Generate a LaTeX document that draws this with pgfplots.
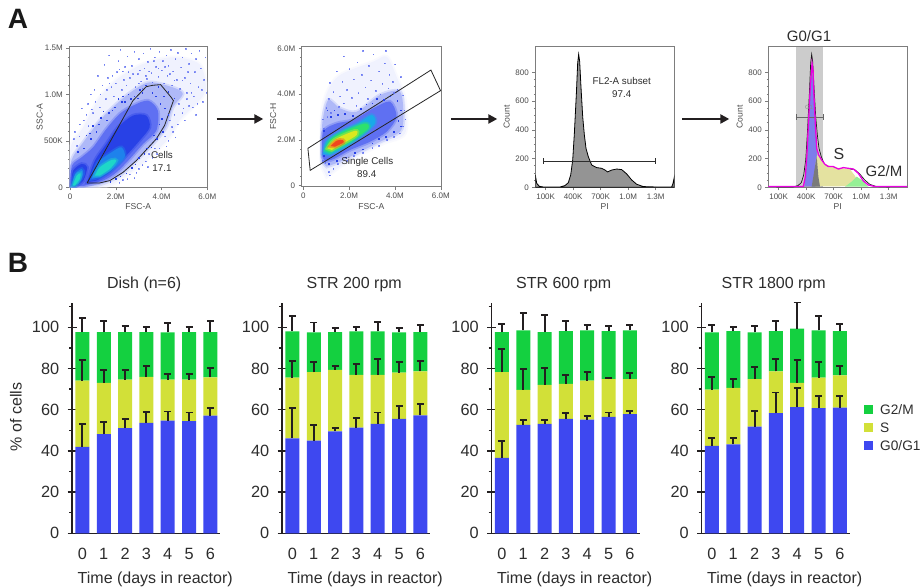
\documentclass[border=0pt]{standalone}
\usepackage{fontspec}
\setmainfont{Liberation Sans}
\usepackage{pgfplots}
\usepackage{pgfplotstable}
\pgfplotsset{compat=1.18}
\usetikzlibrary{arrows.meta}
\definecolor{cB}{RGB}{62,72,240}
\definecolor{cY}{RGB}{210,224,56}
\definecolor{cG}{RGB}{20,208,64}
\definecolor{txt}{RGB}{45,45,45}
\definecolor{ebar}{RGB}{35,31,32}
\definecolor{boxg}{RGB}{125,125,125}
\definecolor{d0}{RGB}{240,242,254}
\definecolor{d1}{RGB}{175,185,248}
\definecolor{d2}{RGB}{95,112,242}
\definecolor{d3}{RGB}{40,65,230}
\definecolor{d4}{RGB}{30,130,236}
\definecolor{d5}{RGB}{30,215,200}
\definecolor{h3}{RGB}{25,170,232}
\definecolor{h4}{RGB}{45,225,110}
\definecolor{h5}{RGB}{220,232,30}
\definecolor{h6}{RGB}{240,70,30}
\definecolor{mag}{RGB}{235,0,225}

\pgfplotstableread{
d g1 eg1 s es g2 eg2
0 41.9 11.0 32.2 9.9 23.6 6.7
1 48.1 5.8 24.9 6.4 24.7 5.4
2 51.1 4.2 23.5 4.8 23.1 2.9
3 53.6 5.1 22.3 5.3 21.8 2.6
4 54.7 4.4 19.9 2.7 22.9 4.6
5 54.5 4.1 20.1 2.9 23.1 2.5
6 57.1 3.7 18.6 4.6 22.0 5.2
}\dish
\pgfplotstableread{
d g1 eg1 s es g2 eg2
0 46.1 14.9 29.5 8.1 22.4 7.5
1 45.0 7.6 33.3 4.9 19.3 4.7
2 49.5 1.8 29.8 1.9 18.4 2.1
3 51.3 4.8 25.6 5.3 21.1 2.3
4 53.1 5.5 23.8 7.7 21.1 4.6
5 55.5 6.2 22.5 5.3 19.6 2.1
6 57.3 5.6 21.3 5.1 19.1 3.4
}\strA
\pgfplotstableread{
d g1 eg1 s es g2 eg2
0 36.6 8.2 41.6 11.1 19.5 3.8
1 52.6 2.4 17.0 10.3 28.9 8.6
2 53.1 1.8 18.9 8.3 25.7 8.4
3 55.5 2.8 17.0 4.5 25.7 4.9
4 55.2 1.9 18.9 4.1 24.4 2.8
5 56.5 2.1 18.3 0.6 23.4 2.3
6 57.9 1.3 17.0 2.9 23.6 2.5
}\strB
\pgfplotstableread{
d g1 eg1 s es g2 eg2
0 42.4 4.0 27.3 6.2 27.9 3.4
1 43.2 3.1 27.4 4.3 27.6 2.0
2 51.8 7.7 23.1 5.8 22.7 3.2
3 58.4 10.0 20.2 5.9 19.5 5.0
4 61.3 9.1 11.7 11.0 26.4 12.6
5 60.8 6.0 14.8 7.7 22.9 7.0
6 61.0 5.5 15.7 4.5 21.5 3.3
}\strC
\pgfplotstableread{
x y
-13 86
2 28
31 7
75 2
256 2
311 12
347 32
373 86
395 190
413 375
435 653
449 862
460 925
471 874
485 700
504 491
522 364
540 271
565 213
602 155
656 137
711 132
747 120
776 107
820 120
875 127
929 123
984 93
1038 51
1093 21
1165 5
1311 2
1475 2
1489 28
1503 70
}\hist

\newcommand{\fsz}[1]{\fontsize{#1}{#1}\selectfont}
\pgfplotsset{
 flowbase/.style={
  scale only axis, axis line style={boxg,line width=0.7pt},
  tick style={boxg,line width=0.5pt}, tick align=outside,
  major tick length=3pt, minor tick length=1.5pt,
  tick label style={font=\fsz{8}, text=txt!85},
  /pgf/number format/assume math mode=true,
  label style={font=\fsz{8.6}, text=txt!85},
  xtick pos=bottom, ytick pos=left,
  clip=true,
  speck/.style={only marks,mark=square*,mark size=0.3pt,color=d2,mark options={draw=none}},
  soft/.style={fill=##1,draw=##1,draw opacity=0.4,line width=3.5pt,smooth},
 },
 hist/.style={flowbase,width=139pt,height=140.6pt,xmin=-13,xmax=1503,ymin=0,ymax=978,
  xtick={100,400,700,1000,1300},xticklabels={100K,400K,700K,1.0M,1.3M},
  ytick={0,200,400,600,800},minor y tick num=3,
  xlabel={PI},ylabel={Count},
  xlabel style={at={(0.5,0)},anchor=north,yshift=-13pt},
  ylabel style={at={(0,0.5)},anchor=south,yshift=22pt},
 },
 barpanel/.style={
  scale only axis,width=148pt,height=230.7pt,
  xmin=-0.48,xmax=6.46,ymin=0,ymax=112,
  axis lines=left, axis line style={-,line width=1.5pt,ebar},
  xtick={0,...,6}, x tick style={draw=none},
  ytick={10,30,50,70,90,110}, yticklabels={}, y tick style={ebar,line width=1.3pt},
  tick align=outside, major tick length=3pt,
  extra y ticks={0,20,40,60,80,100},
  extra tick style={tick align=center,major tick length=9pt,y tick style={ebar,line width=1.3pt}},
  /pgf/number format/assume math mode=true,
  tick label style={font=\fsz{16.3}, text=txt},
  yticklabel style={xshift=-5pt},
  xticklabel style={yshift=-8pt},
  title style={font=\fsz{16}, text=txt, yshift=1pt, xshift=-2pt},
  xlabel style={font=\fsz{16}, text=txt, xshift=9pt, yshift=-6pt},
  xlabel={Time (days in reactor)},
  ylabel={},
  ybar stacked, bar width=14pt, clip=false,
 },
 eb/.style={error bars/.cd, y dir=plus, y explicit,
   error bar style={ebar,line width=2pt},
   error mark options={ebar,line width=1.8pt,mark size=3.5pt,rotate=90}},
}
\newcommand{\stackbars}[1]{%
  \addplot[fill=cB,draw=none,eb] table[x=d,y=g1,y error=eg1]{#1};
  \addplot[fill=cY,draw=none,eb] table[x=d,y=s,y error=es]{#1};
  \addplot[fill=cG,draw=none,eb] table[x=d,y=g2,y error=eg2]{#1};
}

\begin{document}
\begin{tikzpicture}[x=1pt,y=1pt]
\useasboundingbox (0,0) rectangle (924,588);
\fill[white] (0,0) rectangle (924,588);
\node[font=\fsz{28}\bfseries,text=black!90] at (18,569) {A};
\node[font=\fsz{28}\bfseries,text=black!90] at (18,325) {B};

%% ---------- A1
\begin{axis}[flowbase,at={(69.3pt,400.7pt)},anchor=south west,width=138pt,height=140.6pt,
 xmin=-0.03,xmax=6,ymin=0,ymax=1.512,
 xtick={0,2,4,6},xticklabels={0,2.0M,4.0M,6.0M},
 ytick={0,0.5,1,1.5},yticklabels={0,500K,1.0M,1.5M},minor y tick num=4,
 xlabel={FSC-A},ylabel={SSC-A},
 xlabel style={at={(0.5,0)},anchor=north,yshift=-13pt},
 ylabel style={at={(0,0.5)},anchor=south,yshift=23pt},
]
\addplot[soft=d0] coordinates {(0.03,0)(0.03,0.43)(0.58,0.645)(1.30,0.968)(2.17,1.183)(3.19,1.326)(4.49,1.398)(5.65,1.326)(5.94,1.075)(5.65,0.932)(4.78,0.717)(4.35,0.538)(3.48,0.323)(2.75,0.179)(1.88,0.036)(1.30,0)} -- cycle;
\addplot[speck,opacity=0.7] coordinates {
(0.2,0.6)(0.5,0.85)(0.7,0.78)(0.9,1.0)(1.1,0.92)(1.2,1.2)(1.4,1.1)(1.5,1.32)(1.6,1.05)(1.7,1.42)(1.85,1.2)(2.0,1.12)(2.1,1.36)(2.2,1.48)(2.3,1.25)(2.45,1.1)(2.5,1.41)(2.6,1.18)(2.7,1.31)(2.8,1.46)(2.85,1.08)(2.95,1.22)(3.0,1.38)(3.1,1.14)(3.2,1.44)(3.25,1.28)(3.35,1.17)(3.4,1.35)(3.5,1.49)(3.55,1.23)(3.6,1.13)(3.7,1.4)(3.75,1.3)(3.85,1.19)(3.9,1.46)(4.0,1.26)(4.05,1.36)(4.1,1.12)(4.2,1.42)(4.25,1.2)(4.3,1.31)(4.4,1.48)(4.45,1.1)(4.5,1.25)(4.6,1.38)(4.65,1.16)(4.7,1.45)(4.8,1.06)(4.85,1.29)(4.9,1.4)(5.0,1.18)(5.05,1.49)(5.1,1.02)(5.2,1.33)(5.25,1.12)(5.3,1.44)(5.4,0.98)(5.45,1.24)(5.5,1.38)(5.6,1.08)(5.65,1.47)(5.7,1.28)(5.8,0.92)(5.85,1.16)(5.9,1.4)(5.95,1.02)(5.2,0.88)(4.9,0.8)(4.7,0.68)(4.5,0.6)(4.3,0.5)(3.9,0.42)(3.6,0.32)(3.3,0.28)(3.0,0.2)(2.6,0.14)(2.3,0.08)(5.5,0.78)(5.0,0.72)(4.6,0.54)(4.2,0.44)(3.8,0.36)(3.4,0.22)(2.8,0.1)(1.0,0.8)(0.8,0.66)(0.4,0.55)(0.3,0.45)(1.3,0.86)(1.8,1.08)(2.25,1.05)(3.05,1.26)(2.4,1.3)(3.15,1.06)(0.6,0.72)(1.55,0.95)(1.9,0.98)(4.35,0.72)(4.75,0.9)(5.1,0.95)(5.35,0.86)(5.55,0.9)
(2.15,1.27)(2.75,1.22)(3.45,1.25)(4.15,1.3)(4.55,1.15)(5.15,1.24)(3.65,1.36)(2.35,1.16)(1.65,1.18)(0.95,0.84)
(0.15,0.52)(0.42,0.68)(0.78,0.9)(1.05,1.05)(1.32,1.0)(1.72,1.12)(2.05,1.24)(2.55,1.24)(3.0,1.12)(3.3,1.2)(3.85,1.28)(4.35,1.22)(4.9,1.15)(5.3,1.02)(5.75,1.05)(4.95,0.85)(4.55,0.78)(4.45,0.65)(4.15,0.55)(3.7,0.42)(3.45,0.36)(3.15,0.24)(2.9,0.16)(2.5,0.09)(2.15,0.05)};
\addplot[soft=d1] coordinates {(0.03,0.007)(0.06,0.287)(0.58,0.484)(1.30,0.717)(2.03,0.896)(2.75,1.039)(3.48,1.129)(4.49,1.075)(4.93,1.004)(4.49,0.860)(4.20,0.645)(3.62,0.466)(2.90,0.287)(2.17,0.125)(1.30,0.029)(0.43,0)} -- cycle;
\addplot[speck,color=d3] coordinates {
(0.7,0.56)(1.0,0.66)(1.25,0.68)(1.45,0.82)(1.7,0.8)(1.95,0.86)(2.1,0.95)(2.4,0.92)(2.55,1.0)(2.8,0.98)(3.05,1.05)(3.3,1.1)(3.6,1.02)(3.85,1.08)(4.1,0.98)(4.3,1.03)(4.55,0.96)(4.15,0.85)(4.0,0.74)(4.05,0.6)(3.8,0.52)(3.55,0.43)(3.25,0.36)(3.0,0.32)(2.7,0.21)(2.45,0.15)(2.0,0.09)(0.9,0.52)(1.15,0.6)(1.6,0.72)(2.25,0.92)(2.65,0.95)(2.95,0.96)
(0.35,0.38)(0.6,0.42)(0.85,0.58)(1.35,0.75)(1.85,0.83)(2.3,0.98)(3.15,1.02)(3.75,0.98)(3.95,0.9)(4.3,0.78)(3.9,0.68)(3.65,0.56)(3.35,0.42)(2.85,0.25)(2.2,0.12)(1.75,0.06)};
\addplot[soft=d2] coordinates {(0.03,0.014)(0.09,0.233)(0.51,0.323)(1.01,0.430)(1.59,0.627)(2.17,0.789)(2.75,0.878)(3.41,0.932)(3.84,0.824)(3.77,0.609)(3.19,0.466)(2.61,0.305)(2.03,0.161)(1.45,0.072)(0.58,0.014)} -- cycle;
\addplot[soft=d3] coordinates {(0.75,0.054)(1.09,0.287)(1.59,0.466)(2.10,0.645)(2.75,0.771)(3.33,0.771)(3.48,0.645)(3.04,0.502)(2.39,0.323)(1.74,0.161)(1.16,0.072)} -- cycle;
\addplot[soft=d3] coordinates {(0.06,0.018)(0.14,0.179)(0.51,0.251)(0.75,0.215)(0.58,0.072)(0.22,0.007)} -- cycle;
\addplot[soft=d4] coordinates {(0.94,0.09)(1.23,0.269)(1.81,0.376)(2.25,0.430)(2.39,0.323)(1.88,0.197)(1.30,0.108)} -- cycle;
\addplot[soft=d4] coordinates {(0.09,0.018)(0.22,0.143)(0.51,0.197)(0.58,0.143)(0.36,0.036)} -- cycle;
\addplot[soft=d5] coordinates {(1.09,0.125)(1.30,0.215)(1.81,0.294)(2.03,0.287)(1.74,0.197)(1.30,0.125)} -- cycle;
\addplot[soft=d5] coordinates {(0.12,0.018)(0.29,0.125)(0.46,0.151)(0.43,0.09)(0.22,0.018)} -- cycle;
\addplot[draw=black!85,line width=0.8pt] coordinates {(0.75,0.047)(1.30,0.047)(1.74,0.072)(2.32,0.161)(2.90,0.287)(3.77,0.520)(4.13,0.663)(4.52,0.932)(4.42,0.968)(3.96,1.104)(3.62,1.097)(3.33,1.082)(2.75,0.932)(2.39,0.771)(0.75,0.047)};
\end{axis}
\node[font=\fsz{9.8},text=txt] at (162,433) {Cells};
\node[font=\fsz{9.8},text=txt] at (162,420) {17.1};

%% ---------- A2
\begin{axis}[flowbase,at={(301.7pt,401.3pt)},anchor=south west,width=139.3pt,height=140pt,
 xmin=-0.07,xmax=6.01,ymin=-0.044,ymax=6.07,
 xtick={0,2,4,6},xticklabels={0,2.0M,4.0M,6.0M},
 ytick={0,2,4,6},yticklabels={0,2.0M,4.0M,6.0M},minor y tick num=4,
 xlabel={FSC-A},ylabel={FSC-H},
 xlabel style={at={(0.5,0)},anchor=north,yshift=-13pt},
 ylabel style={at={(0,0.5)},anchor=south,yshift=22pt},
]
\addplot[soft=d0] coordinates {(0.80,0.83)(0.80,3.01)(1.05,4.10)(1.60,4.83)(3.06,5.42)(3.64,5.63)(4.07,4.76)(4.44,3.74)(4.44,2.29)(3.49,1.85)(2.47,1.34)(1.60,0.83)(1.02,0.39)} -- cycle;
\addplot[speck,opacity=0.75] coordinates {
(1.15,4.5)(1.3,4.1)(1.45,5.0)(1.6,3.9)(1.7,4.55)(1.75,5.65)(1.9,4.2)(2.0,5.1)(2.1,3.85)(2.2,4.65)(2.35,5.4)(2.4,4.05)(2.55,4.85)(2.6,5.9)(2.7,4.3)(2.85,5.25)(2.95,4.6)(3.05,5.75)(3.15,4.15)(3.3,5.0)(3.45,4.45)(3.55,5.35)(3.6,5.9)(3.7,4.25)(3.75,4.85)(3.9,4.55)(4.0,5.3)(4.1,4.2)(4.25,4.75)(4.35,3.95)(1.0,3.4)(1.1,3.8)(0.95,1.0)(1.1,0.6)(1.3,0.75)(1.15,0.45)(1.5,0.95)(1.9,1.1)(2.2,1.3)(2.6,1.45)(3.0,1.65)(3.3,1.75)(3.65,2.0)(3.95,2.15)(4.2,2.3)(4.35,2.6)(4.45,2.9)(4.4,3.3)(0.85,2.9)(0.88,2.5)(0.82,1.5)(0.84,1.1)(1.2,3.2)(1.75,3.6)(2.3,3.5)(2.8,3.8)(3.35,4.0)(3.95,4.05)(1.55,3.45)(1.05,3.0)};
\addplot[soft=d1] coordinates {(0.80,1.05)(0.83,2.72)(1.09,3.74)(1.60,3.38)(2.33,3.23)(3.35,3.96)(4.22,4.10)(4.37,3.01)(4.22,2.36)(3.35,1.92)(2.47,1.48)(1.60,1.05)(1.02,0.83)} -- cycle;
\addplot[speck,color=d3] coordinates {(1.05,3.3)(1.2,3.0)(1.35,3.3)(1.5,3.1)(1.8,3.15)(2.15,3.05)(2.5,3.35)(2.75,3.55)(3.0,3.6)(3.2,3.8)(3.5,3.75)(3.8,3.9)(4.1,3.7)(4.25,3.3)(4.15,2.85)(4.25,2.6)(3.95,2.35)(3.6,2.15)(3.3,2.05)(3.0,1.85)(2.6,1.6)(2.25,1.45)(1.85,1.25)(1.45,1.1)(1.1,0.95)(0.9,1.3)(0.88,2.4)};
\addplot[soft=d2] coordinates {(0.83,1.27)(0.87,2.36)(1.46,2.72)(2.18,2.87)(3.06,3.38)(3.78,3.67)(4.07,3.01)(3.64,2.36)(2.91,1.92)(2.04,1.56)(1.38,1.19)(0.95,1.05)} -- cycle;
\addplot[soft=h3] coordinates {(0.87,1.38)(0.99,1.92)(1.60,2.36)(2.33,2.69)(2.98,3.09)(3.13,2.72)(2.47,2.11)(1.75,1.63)(1.16,1.34)} -- cycle;
\addplot[soft=h4] coordinates {(0.95,1.53)(1.16,1.99)(1.75,2.36)(2.69,2.72)(2.84,2.50)(2.18,1.99)(1.60,1.67)(1.14,1.44)} -- cycle;
\addplot[soft=h5] coordinates {(1.05,1.63)(1.38,2.02)(2.26,2.40)(2.33,2.21)(1.75,1.85)(1.24,1.56)} -- cycle;
\addplot[soft=h6] coordinates {(1.19,1.73)(1.46,1.97)(1.72,1.99)(1.75,1.88)(1.38,1.70)} -- cycle;
\addplot[draw=black!85,line width=0.8pt] coordinates {(0.20,1.63)(5.57,5.05)(5.99,4.15)(0.30,0.67)(0.20,1.63)};
\end{axis}
\node[font=\fsz{9.8},text=txt] at (367.3,426.3) {Single Cells};
\node[font=\fsz{9.8},text=txt] at (366.7,413.7) {89.4};

%% ---------- A3
\begin{axis}[hist,at={(535.3pt,400.7pt)},anchor=south west]
\addplot[fill=black!42,draw=black,line width=0.8pt] table[x=x,y=y]{\hist} \closedcycle;
\addplot[draw=txt,line width=0.8pt,mark=|,mark size=2.8pt,mark options={solid,line width=0.8pt}] coordinates {(78,183)(1300,183)};
\end{axis}
\node[font=\fsz{9.8},text=txt] at (621.7,507) {FL2-A subset};
\node[font=\fsz{9.8},text=txt] at (621.7,494) {97.4};

%% ---------- A4
\begin{axis}[hist,at={(768.3pt,400.7pt)},anchor=south west]
\addplot[fill=black!20,draw=none] coordinates {(289,0)(289,978)(584,978)(584,0)} -- cycle;
\addplot[draw=black!90,line width=0.7pt] coordinates {(75,2)(256,2)(311,12)(347,32)(373,86)(395,190)(413,375)(435,653)(449,862)(460,925)(471,874)(485,700)(504,491)(522,364)(540,271)(565,213)(602,155)(656,137)(711,132)(747,120)(776,107)(820,120)(875,127)(929,123)(984,93)(1038,51)(1093,21)(1165,5)(1311,2)};
\addplot[fill={rgb,255:red,125;green,125;blue,235},draw=black!40,line width=0.3pt] coordinates {(380,5)(405,144)(427,399)(445,677)(464,851)(482,677)(496,491)(515,260)(533,121)(558,28)(580,5)} -- cycle;
\addplot[fill={rgb,255:red,228;green,226;blue,160},draw=none] coordinates {(500,5)(505,190)(522,225)(558,190)(605,162)(696,139)(805,132)(878,125)(933,79)(987,9)} -- cycle;
\addplot[fill=black!52,draw=none] coordinates {(460,5)(496,144)(515,213)(533,74)(551,5)} -- cycle;
\addplot[fill={rgb,255:red,150;green,240;blue,150},draw=none] coordinates {(824,5)(896,39)(951,74)(1005,51)(1078,5)} -- cycle;
\addplot[draw=black!60,line width=0.7pt,mark=|,mark size=2.8pt,mark options={solid,line width=0.7pt}] coordinates {(289,489)(590,489)};
\addplot[draw=mag,line width=1.3pt] coordinates {(-13,5)(369,5)(391,74)(409,236)(427,468)(445,700)(464,862)(475,816)(485,630)(500,445)(515,271)(536,225)(569,190)(605,160)(642,144)(696,144)(751,127)(805,137)(860,132)(915,127)(969,97)(1024,44)(1078,16)(1151,5)(1503,5)};
\end{axis}
\node[font=\fsz{15},text=txt] at (809,551.5) {G0/G1};
\node[font=\fsz{16},text=txt] at (839,433.5) {S};
\node[font=\fsz{15},text=txt] at (884,416.5) {G2/M};
\node[font=\fsz{6},text=black!45] at (809,480.5) {G1};

%% ---------- arrows
\draw[-{Triangle[length=9pt,width=9pt]},line width=2.6pt,ebar] (216.7,469) -- (263.3,469);
\draw[-{Triangle[length=9pt,width=9pt]},line width=2.6pt,ebar] (451,469) -- (497.3,469);
\draw[-{Triangle[length=9pt,width=9pt]},line width=2.6pt,ebar] (682.3,469) -- (729.3,469);

%% ---------- B
\begin{axis}[barpanel,at={(72.2pt,54.7pt)},anchor=south west,title={Dish (n=6)},
  ylabel={\% of cells},ylabel style={font=\fsz{16},text=txt,at={(0,0.505)},anchor=south,yshift=47pt}]
\stackbars{\dish}
\end{axis}
\begin{axis}[barpanel,at={(282.2pt,54.7pt)},anchor=south west,title={STR 200 rpm}]
\stackbars{\strA}
\end{axis}
\begin{axis}[barpanel,at={(491.7pt,54.7pt)},anchor=south west,title={STR 600 rpm}]
\stackbars{\strB}
\end{axis}
\begin{axis}[barpanel,at={(701.7pt,54.7pt)},anchor=south west,title={STR 1800 rpm}]
\stackbars{\strC}
\end{axis}
%% legend
\fill[cG] (864,174.2) rectangle (872.7,183.2);
\fill[cY] (864,156.2) rectangle (872.7,165.2);
\fill[cB] (864,137.8) rectangle (872.7,146.8);
\node[font=\fsz{13.7},text=txt,anchor=west,inner sep=0pt] at (880,178.7) {G2/M};
\node[font=\fsz{13.7},text=txt,anchor=west,inner sep=0pt] at (880,160.7) {S};
\node[font=\fsz{13.7},text=txt,anchor=west,inner sep=0pt] at (880,142.3) {G0/G1};
\end{tikzpicture}
\end{document}
